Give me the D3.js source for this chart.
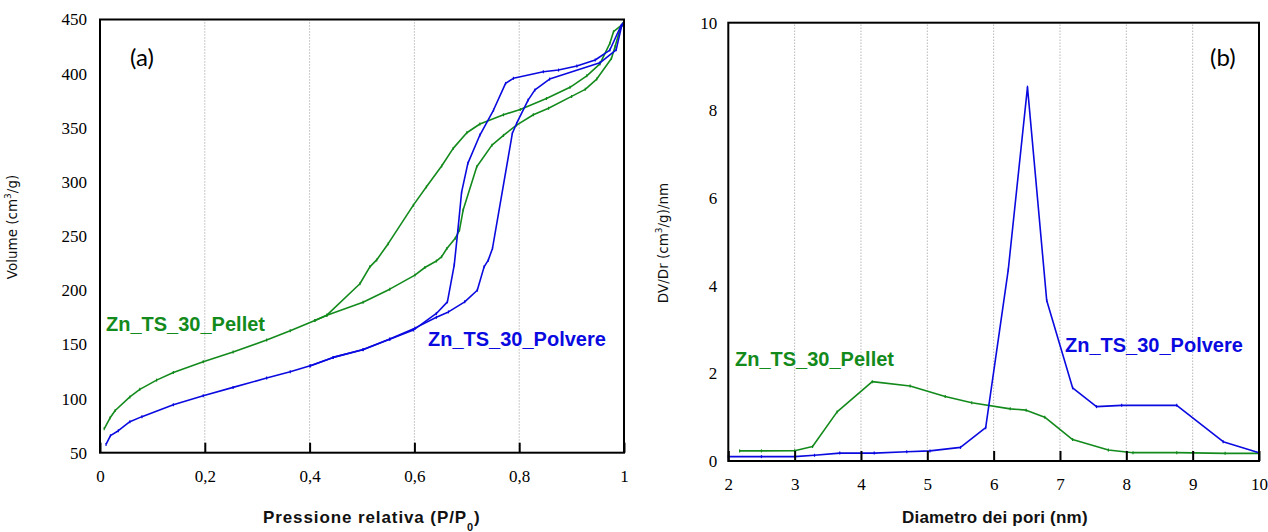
<!DOCTYPE html>
<html><head><meta charset="utf-8">
<script src="https://cdn.jsdelivr.net/npm/d3@7"></script>
<style>body{margin:0;background:#fff}svg{display:block}</style>
</head><body>
<svg id="c" width="1268" height="532"></svg>
<script>
// ---- Panel (a): isotherms ----
const pelletAdsX = [.008,.019,.029,.057,.076,.108,.140,.197,.254,.318,.363,.410,.433,.502,.553,.601,.620,.642,.652,.662,.678,.686,.693,.719,.748,.770,.795,.827,.856,.900,.926,.948,.976,.983,.992,.998];
const pelletAdsY = [72,82,89,101.5,108.5,117,124,134,143,154,162.5,172,177,189,201,214,221,227,231,238.5,248,255.5,274,314,334,343,352.5,362,368,379,385.5,395,414,425,440,446];
const pelletDesX = [.998,.996,.980,.973,.954,.929,.897,.852,.802,.770,.725,.700,.674,.652,.623,.598,.550,.528,.515,.496,.433,.410];
const pelletDesY = [446,445,438.7,428,409,398,387.4,377,367,362,353.5,345.4,331,314.7,295.5,278.6,243,228,221.6,206,177,172];
const polvAdsX = [.0115,.020,.035,.057,.080,.140,.197,.254,.318,.363,.401,.445,.502,.553,.601,.642,.665,.696,.720,.733,.741,.749,.787,.795,.817,.830,.858,.954,.985,.996];
const polvAdsY = [57.6,65.7,70.3,78.6,83.3,94.2,102.6,110.3,118.9,124.7,130.3,138,145,155,165,175,180,189.3,200,221.6,227.8,238.6,345,354,375.6,385,395,410,422,445];
const polvDesX = [.998,.994,.973,.945,.910,.875,.846,.789,.774,.751,.725,.702,.690,.683,.676,.663,.642,.598,.553,.502,.445,.401];
const polvDesY = [446,444,421.8,412.6,407,403.3,401.8,395.7,391,366.4,343.3,317.2,290.3,255.5,223.2,189.3,178.6,163.2,154.8,145.3,138,130];
const aXTicks = [0,0.2,0.4,0.6,0.8,1];
const aXTickLabels = ["0","0,2","0,4","0,6","0,8","1"];
const aYTicks = [50,100,150,200,250,300,350,400,450];

// ---- Panel (b): pore size distribution ----
const pelletPsdX = [2.17,2.5,3.0,3.27,3.64,4.17,4.74,5.27,5.67,6.25,6.49,6.77,7.19,7.73,8.10,8.76,9.49,10.0];
const pelletPsdY = [0.23,0.23,0.235,0.33,1.12,1.81,1.71,1.47,1.33,1.19,1.16,1.0,0.49,0.25,0.19,0.19,0.175,0.175];
const polvPsdX = [2.0,2.5,3.0,3.3,3.68,4.2,4.69,5.04,5.5,5.88,6.22,6.51,6.80,7.19,7.55,7.93,8.76,9.46,10.0];
const polvPsdY = [0.1,0.1,0.1,0.13,0.18,0.18,0.21,0.23,0.31,0.76,4.36,8.53,3.66,1.67,1.24,1.27,1.27,0.44,0.19];
const bXTicks = [2,3,4,5,6,7,8,9,10];
const bYTicks = [0,2,4,6,8,10];

const GREEN = "#138a1c", BLUE = "#0a0ae0";
const SERIF = "'Liberation Serif','Times New Roman',serif";
const svg = d3.select("#c");

function panel(o){
  const g = svg.append("g");
  const x = d3.scaleLinear().domain(o.xd).range(o.xr);
  const y = d3.scaleLinear().domain(o.yd).range(o.yr);
  g.selectAll(".gr").data(o.xt.slice(1,-1)).join("line")
    .attr("x1",d=>x(d)).attr("x2",d=>x(d)).attr("y1",o.yr[0]).attr("y2",o.yr[1])
    .attr("stroke","#b8b8b8").attr("stroke-width",1).attr("stroke-dasharray","1.5,1.5");
  o.series.forEach(s=>{
    const pts = s.x.map((v,i)=>[v,s.y[i]]);
    g.append("path").datum(pts)
      .attr("d", d3.line().x(d=>x(d[0])).y(d=>y(d[1])))
      .attr("fill","none").attr("stroke",s.c).attr("stroke-width",1.6).attr("stroke-linejoin","round");
    g.selectAll(null).data(pts).join("line")
      .attr("x1",d=>x(d[0])).attr("x2",d=>x(d[0]))
      .attr("y1",d=>y(d[1])-1.5).attr("y2",d=>y(d[1])+1.5)
      .attr("stroke",s.c).attr("stroke-width",1.2);
  });
  g.append("rect").attr("x",o.xr[0]).attr("y",o.yr[1])
    .attr("width",o.xr[1]-o.xr[0]).attr("height",o.yr[0]-o.yr[1])
    .attr("fill","none").attr("stroke","#000").attr("stroke-width",2);
  const ax = g.append("g").attr("transform",`translate(0,${o.yr[0]})`)
    .call(d3.axisBottom(x).tickValues(o.xt).tickSize(-10).tickSizeOuter(0)
      .tickFormat((d,i)=>o.xl ? o.xl[i] : d3.format("d")(d)));
  ax.select(".domain").remove();
  ax.selectAll(".tick line").attr("stroke","#000").attr("stroke-width",2);
  ax.selectAll(".tick text").attr("dy",0).attr("y",29)
    .style("font-family",SERIF).style("font-size","17px").style("fill","#000");
  const ay = g.append("g").attr("transform",`translate(${o.xr[0]},0)`)
    .call(d3.axisLeft(y).tickValues(o.yt).tickSize(0).tickPadding(o.ypad).tickFormat(d3.format("d")));
  ay.select(".domain").remove();
  ay.selectAll(".tick text").style("font-family",SERIF).style("font-size","17px").style("fill","#000");
  o.labels.forEach(l=>{
    g.append("text").attr("x",l.x).attr("y",l.y).attr("fill",l.c)
      .attr("font-family","'Liberation Sans',Arial,sans-serif").attr("font-weight","bold")
      .attr("font-size",20).text(l.t);
  });
  return {x,y,g};
}

panel({xd:[0,1],xr:[100,624],yd:[50,450],yr:[452.7,19.5],xt:aXTicks,xl:aXTickLabels,yt:aYTicks,ypad:13,
  series:[
    {x:pelletAdsX,y:pelletAdsY,c:GREEN},{x:pelletDesX,y:pelletDesY,c:GREEN},
    {x:polvAdsX,y:polvAdsY,c:BLUE},{x:polvDesX,y:polvDesY,c:BLUE}],
  labels:[{x:106,y:331,t:"Zn_TS_30_Pellet",c:GREEN},{x:428,y:346,t:"Zn_TS_30_Polvere",c:BLUE}]});

panel({xd:[2,10],xr:[728.3,1259],yd:[0,10],yr:[461,22.7],xt:bXTicks,yt:bYTicks,ypad:11,
  series:[{x:pelletPsdX,y:pelletPsdY,c:GREEN},{x:polvPsdX,y:polvPsdY,c:BLUE}],
  labels:[{x:735,y:366,t:"Zn_TS_30_Pellet",c:GREEN},{x:1065,y:352,t:"Zn_TS_30_Polvere",c:BLUE}]});

svg.append("text").attr("x",130).attr("y",66).attr("font-family","Lato,'Open Sans',sans-serif")
  .attr("font-size",24).attr("fill","#000").text("(a)");
svg.append("text").attr("x",1210).attr("y",66).attr("font-family","Lato,'Open Sans',sans-serif")
  .attr("font-size",24).attr("fill","#000").text("(b)");

const t1 = svg.append("text").attr("x",263).attr("y",523).attr("font-family","'Liberation Sans',Arial,sans-serif")
  .attr("font-weight","bold").attr("font-size",17).attr("letter-spacing",0.9).attr("fill","#111");
t1.append("tspan").text("Pressione relativa (P/P");
t1.append("tspan").attr("font-size",11).attr("dy",8).text("0");
t1.append("tspan").attr("dy",-8).text(")");

svg.append("text").attr("x",902).attr("y",523).attr("font-family","'Liberation Sans',Arial,sans-serif")
  .attr("font-weight","bold").attr("font-size",17).attr("letter-spacing",0.2).attr("fill","#111")
  .text("Diametro dei pori (nm)");

function ylabel(cx,cy,parts){
  const t = svg.append("text").attr("transform",`translate(${cx},${cy}) rotate(-90)`)
    .attr("text-anchor","middle").attr("font-family","'DejaVu Sans',Verdana,sans-serif")
    .attr("font-size",13.5).attr("fill","#111");
  t.append("tspan").text(parts[0]);
  t.append("tspan").attr("font-size",9).attr("dy",-6).text("3");
  t.append("tspan").attr("dy",6).text(parts[1]);
}
ylabel(17,227,["Volume (cm","/g)"]);
ylabel(668,243,["DV/Dr (cm","/g)/nm"]);
</script>
</body></html>
